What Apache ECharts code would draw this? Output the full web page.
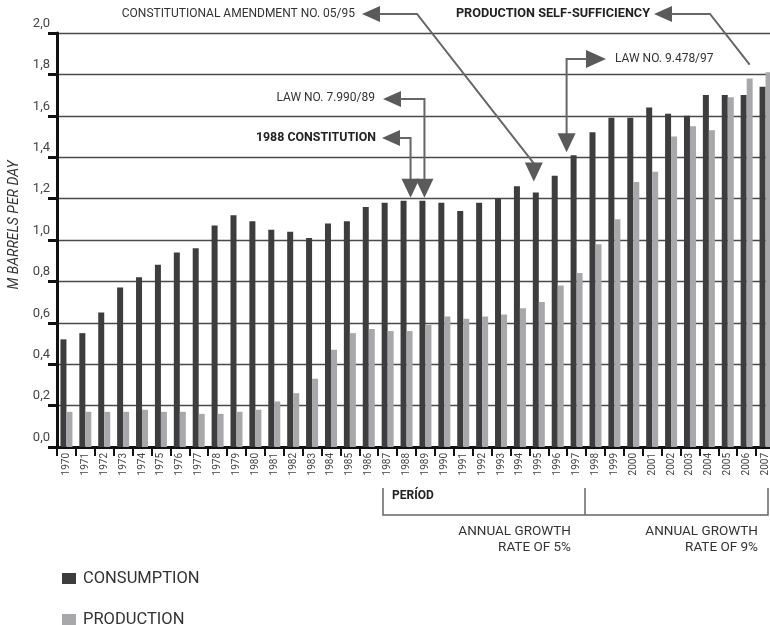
<!DOCTYPE html>
<html><head><meta charset="utf-8">
<script src="https://cdn.jsdelivr.net/npm/echarts/dist/echarts.min.js"></script>
<style>html,body{margin:0;padding:0;background:#fff}#c{width:770px;height:625px}</style>
</head><body><div id="c"></div>
<script>
const years = ['1970','1971','1972','1973','1974','1975','1976','1977','1978','1979','1980','1981','1982','1983','1984','1985','1986','1987','1988','1989','1990','1991','1992','1993','1994','1995','1996','1997','1998','1999','2000','2001','2002','2003','2004','2005','2006','2007'];
const consumption = [0.52,0.55,0.65,0.77,0.82,0.88,0.94,0.96,1.07,1.12,1.09,1.05,1.04,1.01,1.08,1.09,1.16,1.18,1.19,1.19,1.18,1.14,1.18,1.20,1.26,1.23,1.31,1.41,1.52,1.59,1.59,1.64,1.61,1.60,1.70,1.70,1.70,1.74];
const production = [0.17,0.17,0.17,0.17,0.18,0.17,0.17,0.16,0.16,0.17,0.18,0.22,0.26,0.33,0.47,0.55,0.57,0.56,0.56,0.59,0.63,0.62,0.63,0.64,0.67,0.70,0.78,0.84,0.98,1.10,1.28,1.33,1.50,1.55,1.53,1.69,1.78,1.81];
const seriesNames = ['CONSUMPTION','PRODUCTION'];
const yAxisTitle = 'M BARRELS PER DAY';
const annotations = {
  amendment: {text:'CONSTITUTIONAL AMENDMENT NO. 05/95', year:'1995'},
  selfSuff: {text:'PRODUCTION SELF-SUFFICIENCY', year:'2006'},
  law97: {text:'LAW NO. 9.478/97', year:'1997'},
  law89: {text:'LAW NO. 7.990/89', year:'1989'},
  const88: {text:'1988 CONSTITUTION', year:'1988'}
};
const periodLabel = 'PERÍOD';
const growthLabels = ['ANNUAL GROWTH\nRATE OF 5%','ANNUAL GROWTH\nRATE OF 9%'];

const FONT = 'Roboto';
const DARK = '#3d3d3d', LIGHT = '#a8a8ab';
const legendText = {fontSize:16.5, color:'#333', fontFamily:FONT, padding:[0,0,0,2]};
const chart = echarts.init(document.getElementById('c'), null, {renderer:'canvas'});
chart.setOption({
  animation:false,
  textStyle:{fontFamily:FONT},
  grid:{left:57, top:33, width:718, height:414, outerBoundsMode:'none', containLabel:false},
  legend:[
    {data:[seriesNames[0]], left:57, top:565, itemWidth:14, itemHeight:11, icon:'rect', selectedMode:false, textStyle:legendText},
    {data:[seriesNames[1]], left:57, top:606, itemWidth:14, itemHeight:11, icon:'rect', selectedMode:false, textStyle:legendText}
  ],
  xAxis:{
    type:'category', data:years, boundaryGap:true,
    axisLine:{lineStyle:{color:'#111', width:3}},
    axisTick:{show:true, length:9, lineStyle:{color:'#111', width:2}, alignWithLabel:false},
    axisLabel:{rotate:90, fontSize:10, color:'#444', margin:6, interval:0, fontFamily:FONT},
    splitLine:{show:false}
  },
  yAxis:{
    type:'value', min:0, max:2, interval:0.2,
    name:yAxisTitle, nameLocation:'middle', nameRotate:90, nameGap:34,
    nameTextStyle:{fontSize:14, fontStyle:'italic', color:'#333', fontFamily:FONT, padding:[0,0,0,30]},
    axisLine:{show:true, lineStyle:{color:'#111', width:3}},
    axisTick:{show:true, length:9, lineStyle:{color:'#111', width:3}},
    axisLabel:{fontSize:13, color:'#444', margin:7, verticalAlign:'bottom', padding:[0,0,3,0], fontFamily:FONT,
      formatter:v=>v.toFixed(1).replace('.',',')},
    splitLine:{show:true, lineStyle:{color:'#4a4a4a', width:1.3}}
  },
  series:[
    {name:seriesNames[0], type:'bar', data:consumption, barWidth:6, barGap:'0%', itemStyle:{color:DARK}, silent:true},
    {name:seriesNames[1], type:'bar', data:production, barWidth:6, barGap:'0%', itemStyle:{color:LIGHT}, silent:true}
  ]
});

function px(year, v){ return chart.convertToPixel({xAxisIndex:0, yAxisIndex:0}, [year, v]); }
const ARROW='#5a5a5a', LINE='#666';
const g = [];
function poly(points){ g.push({type:'polyline', silent:true, shape:{points}, style:{stroke:LINE, lineWidth:2, fill:null}}); }
function head(points){ g.push({type:'polygon', silent:true, shape:{points}, style:{fill:ARROW}}); }
function leftHead(x,y){ head([[x,y],[x+18,y-8],[x+18,y+8]]); }
function rightHead(x,y){ head([[x,y],[x-20,y-9],[x-20,y+9]]); }
function downHead(x,y){ head([[x,y],[x-9,y-19],[x+9,y-19]]); }
function txt(text,x,y,align,bold,size){ g.push({type:'text', silent:true, style:{text, x, y, align, verticalAlign:'middle', fill:bold?'#222':'#333', font:(bold?'bold ':'')+(size||12)+'px '+FONT}}); }

const idx = y => years.indexOf(y);
// 1988 constitution
{ const p = px('1988', consumption[idx('1988')]); const tx = p[0]+4, ty = p[1]-3;
  txt(annotations.const88.text, 376, 138, 'right', true, 12.4);
  leftHead(382,138); poly([[400,138],[tx,138],[tx,ty-18]]); downHead(tx,ty); }
// law 89
{ const p = px('1989', consumption[idx('1989')]); const tx = p[0]-1, ty = p[1]-3;
  txt(annotations.law89.text, 375, 98, 'right', false);
  leftHead(383,99); poly([[400,99],[tx,99],[tx,ty-18]]); downHead(tx,ty); }
// amendment 95
{ const p = px('1995', consumption[idx('1995')]); const tx = p[0]-5, ty = p[1]-11;
  txt(annotations.amendment.text, 355, 14, 'right', false);
  leftHead(362,14); poly([[379,14],[417,14],[tx,ty-18]]); downHead(tx,ty); }
// law 97
{ const p = px('1997', consumption[idx('1997')]); const tx = p[0]-10, ty = p[1]-3;
  txt(annotations.law97.text, 615, 59, 'left', false);
  rightHead(606,59); poly([[587,59],[tx,59],[tx,ty-18]]); downHead(tx,ty); }
// self sufficiency
{ const p = px('2006', production[idx('2006')]); const ex = p[0]+3, ey = p[1]-14;
  txt(annotations.selfSuff.text, 650, 14, 'right', true, 12.7);
  leftHead(654,14); poly([[671,14],[710,14],[ex,ey]]); }
// period bracket
g.push({type:'polyline', silent:true, shape:{points:[[383,488],[383,515],[768,515],[768,488]]}, style:{stroke:LINE, lineWidth:1.5, fill:null}});
g.push({type:'line', silent:true, shape:{x1:585,y1:488,x2:585,y2:515}, style:{stroke:LINE, lineWidth:1.5}});
txt(periodLabel, 392, 496, 'left', true, 12);
g.push({type:'text', silent:true, style:{text:growthLabels[0], x:571, y:524, align:'right', verticalAlign:'top', lineHeight:16, fill:'#333', font:'13.5px '+FONT}});
g.push({type:'text', silent:true, style:{text:growthLabels[1], x:758, y:524, align:'right', verticalAlign:'top', lineHeight:16, fill:'#333', font:'13.5px '+FONT}});
chart.setOption({graphic:g});
</script></body></html>
